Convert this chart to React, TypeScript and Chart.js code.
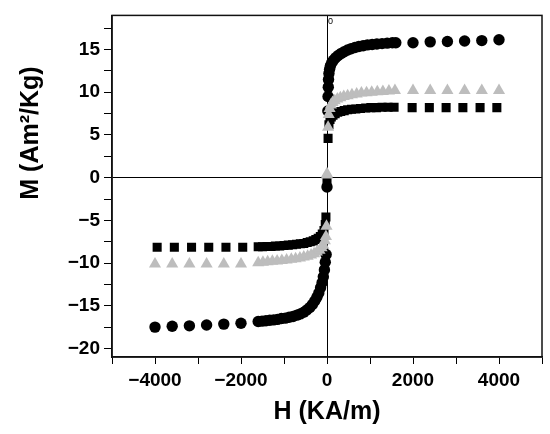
import { useEffect, useRef } from "react"
import { Chart, registerables } from "chart.js"

Chart.register(...registerables)

// Circles (black)
const circleNegSparseH = [-4000, -3600, -3200, -2800, -2400, -2000]
const circleNegSparseM = [-17.5, -17.4, -17.35, -17.25, -17.15, -17.05]
const circleNegDenseH = [-1600, -1510, -1420, -1330, -1240, -1150, -1060, -970, -880, -790, -700, -620, -540, -470, -400, -340, -285, -235, -190, -150, -115, -85, -60, -40, -20, 0]
const circleNegDenseM = [-16.85, -16.8, -16.75, -16.7, -16.65, -16.6, -16.5, -16.45, -16.35, -16.25, -16.1, -15.95, -15.75, -15.5, -15.2, -14.85, -14.45, -14.0, -13.5, -12.9, -12.3, -11.6, -10.8, -9.9, -9.0, -1.1]
const circlePosDenseH = [20, 25, 30, 35, 45, 60, 80, 110, 150, 200, 260, 330, 400, 480, 560, 650, 740, 840, 940, 1050, 1160, 1280, 1400, 1520, 1600]
const circlePosDenseM = [7.8, 9.5, 10.6, 11.5, 12.2, 12.7, 13.1, 13.45, 13.75, 14.05, 14.3, 14.55, 14.75, 14.95, 15.1, 15.25, 15.35, 15.45, 15.55, 15.6, 15.65, 15.7, 15.75, 15.8, 15.8]
const circlePosSparseH = [2000, 2400, 2800, 3200, 3600, 4000]
const circlePosSparseM = [15.8, 15.9, 15.95, 16.0, 16.05, 16.15]

// Squares (black)
const squareNegSparseH = [-3950, -3550, -3150, -2750, -2350, -1960]
const squareNegSparseM = [-8.15, -8.15, -8.15, -8.15, -8.15, -8.15]
const squareNegDenseH = [-1600, -1500, -1400, -1300, -1200, -1100, -1000, -900, -800, -710, -620, -540, -460, -390, -320, -260, -205, -155, -110, -70, -40, -25]
const squareNegDenseM = [-8.1, -8.1, -8.05, -8.05, -8.0, -8.0, -7.95, -7.9, -7.85, -7.8, -7.75, -7.7, -7.6, -7.5, -7.4, -7.25, -7.1, -6.9, -6.6, -6.2, -5.5, -4.6]
const squarePosDenseH = [0, 25, 45, 70, 100, 140, 190, 250, 320, 400, 480, 570, 670, 780, 900, 1020, 1150, 1280, 1420, 1560]
const squarePosDenseM = [-0.3, 4.6, 6.2, 6.8, 7.1, 7.3, 7.5, 7.65, 7.75, 7.85, 7.95, 8.0, 8.05, 8.1, 8.15, 8.2, 8.2, 8.25, 8.25, 8.25]
const squarePosSparseH = [1980, 2380, 2770, 3160, 3560, 3950]
const squarePosSparseM = [8.2, 8.2, 8.2, 8.2, 8.2, 8.2]

// Triangles (grey)
const triNegSparseH = [-4000, -3600, -3200, -2800, -2400, -2000]
const triNegSparseM = [-10.1, -10.1, -10.1, -10.1, -10.1, -10.1]
const triNegDenseH = [-1600, -1490, -1380, -1270, -1160, -1050, -940, -830, -730, -630, -540, -450, -370, -300, -235, -175, -125, -85, -50, -25, -12, 0]
const triNegDenseM = [-9.95, -9.9, -9.85, -9.8, -9.75, -9.7, -9.65, -9.55, -9.5, -9.4, -9.3, -9.2, -9.05, -8.9, -8.7, -8.5, -8.2, -7.9, -7.4, -6.9, -5.7, 0.3]
const triPosDenseH = [0, 25, 40, 60, 90, 130, 180, 240, 310, 390, 480, 580, 690, 800, 920, 1040, 1170, 1300, 1440, 1580]
const triPosDenseM = [0.45, 5.9, 7.4, 8.1, 8.5, 8.8, 9.0, 9.2, 9.35, 9.5, 9.6, 9.7, 9.8, 9.9, 9.95, 10.0, 10.05, 10.1, 10.15, 10.2]
const triPosSparseH = [2000, 2400, 2800, 3200, 3600, 4000]
const triPosSparseM = [10.2, 10.2, 10.2, 10.2, 10.2, 10.2]

// Axis ticks
const xTickValues = [-5000, -4000, -3000, -2000, -1000, 0, 1000, 2000, 3000, 4000, 5000]
const xTickLabels = ["", "\u22124000", "", "\u22122000", "", "0", "", "2000", "", "4000", ""]
const yTickValues = [-20, -17.5, -15, -12.5, -10, -7.5, -5, -2.5, 0, 2.5, 5, 7.5, 10, 12.5, 15, 17.5]
const yTickLabels = ["\u221220", "", "\u221215", "", "\u221210", "", "\u22125", "", "0", "", "5", "", "10", "", "15", ""]

const FONT = "'Liberation Sans', Arial, sans-serif"

function pairs(h: number[], m: number[]) {
  return h.map((x, i) => ({ x, y: m[i] }))
}

const framePlugin = {
  id: "frame",
  afterDraw(chart: any) {
    const { ctx, chartArea: a } = chart
    ctx.save()
    ctx.strokeStyle = "#111"
    ctx.lineWidth = 1.5
    ctx.strokeRect(a.left, a.top, a.right - a.left, a.bottom - a.top)

    // y axis title
    ctx.fillStyle = "#000"
    ctx.font = `bold 25px ${FONT}`
    ctx.textAlign = "center"
    ctx.textBaseline = "alphabetic"
    ctx.translate(38, 133)
    ctx.rotate(-Math.PI / 2)
    ctx.fillText("M (Am\u00b2/Kg)", 0, 0)
    ctx.restore()

    // small "0" at the top of the vertical zero line
    ctx.save()
    ctx.fillStyle = "#000"
    ctx.font = `9px ${FONT}`
    ctx.textAlign = "left"
    ctx.textBaseline = "middle"
    ctx.fillText("0", chart.scales.x.getPixelForValue(0) + 1, a.top + 6)
    ctx.restore()
  },
}

export default function App() {
  const chartRef = useRef<HTMLCanvasElement>(null)
  const chartInstance = useRef<Chart | null>(null)

  useEffect(() => {
    if (!chartRef.current) return
    if (chartInstance.current) chartInstance.current.destroy()

    const circles = [
      ...pairs(circleNegSparseH, circleNegSparseM),
      ...pairs(circleNegDenseH, circleNegDenseM),
      ...pairs(circlePosDenseH, circlePosDenseM),
      ...pairs(circlePosSparseH, circlePosSparseM),
    ]
    const squares = [
      ...pairs(squareNegSparseH, squareNegSparseM),
      ...pairs(squareNegDenseH, squareNegDenseM),
      ...pairs(squarePosDenseH, squarePosDenseM),
      ...pairs(squarePosSparseH, squarePosSparseM),
    ]
    const triangles = [
      ...pairs(triNegSparseH, triNegSparseM),
      ...pairs(triNegDenseH, triNegDenseM),
      ...pairs(triPosDenseH, triPosDenseM),
      ...pairs(triPosSparseH, triPosSparseM),
    ]

    const zeroGrid = (ctx: any) => (ctx.tick && ctx.tick.value === 0 ? "#000" : "rgba(0,0,0,0)")

    chartInstance.current = new Chart(chartRef.current, {
      type: "scatter",
      data: {
        datasets: [
          {
            label: "triangles",
            data: triangles,
            pointStyle: "triangle",
            pointRadius: 7,
            pointBorderWidth: 0,
            backgroundColor: "#bdbdbd",
            borderColor: "#bdbdbd",
          },
          {
            label: "squares",
            data: squares,
            pointStyle: "rect",
            pointRadius: 6.4,
            pointBorderWidth: 0,
            backgroundColor: "#000",
            borderColor: "#000",
          },
          {
            label: "circles",
            data: circles,
            pointStyle: "circle",
            pointRadius: 5.7,
            pointBorderWidth: 0,
            backgroundColor: "#000",
            borderColor: "#000",
          },
        ],
      },
      options: {
        animation: false,
        responsive: true,
        maintainAspectRatio: false,
        layout: { padding: { top: 6, right: 8, left: 0, bottom: 0 } },
        plugins: {
          legend: { display: false },
          tooltip: { enabled: false },
        },
        scales: {
          x: {
            type: "linear",
            min: -5000,
            max: 5000,
            afterBuildTicks: (scale: any) => {
              scale.ticks = xTickValues.map((value) => ({ value }))
            },
            afterFit: (scale: any) => {
              scale.height = 77
            },
            ticks: {
              autoSkip: false,
              maxRotation: 0,
              padding: 5,
              color: "#000",
              font: { family: FONT, size: 19, weight: "bold" },
              callback: (_v: any, i: number) => xTickLabels[i],
            },
            grid: {
              drawOnChartArea: true,
              color: zeroGrid,
              lineWidth: 1,
              tickColor: "#000",
              tickLength: 7,
            },
            border: { display: true, color: "#111", width: 1.5 },
            title: {
              display: true,
              text: "H (KA/m)",
              color: "#000",
              font: { family: FONT, size: 25, weight: "bold" },
              padding: { top: 0, bottom: 7 },
            },
          },
          y: {
            type: "linear",
            min: -21,
            max: 19,
            afterBuildTicks: (scale: any) => {
              scale.ticks = yTickValues.map((value) => ({ value }))
            },
            afterFit: (scale: any) => {
              scale.width = 112
            },
            ticks: {
              autoSkip: false,
              padding: 4,
              color: "#000",
              font: { family: FONT, size: 19, weight: "bold" },
              callback: (_v: any, i: number) => yTickLabels[i],
            },
            grid: {
              drawOnChartArea: true,
              color: zeroGrid,
              lineWidth: 1,
              tickColor: "#000",
              tickLength: 8,
            },
            border: { display: true, color: "#111", width: 1.5 },
          },
        },
      },
      plugins: [framePlugin],
    } as any)

    return () => {
      if (chartInstance.current) {
        chartInstance.current.destroy()
        chartInstance.current = null
      }
    }
  }, [])

  return (
    <div style={{ position: "fixed", left: 0, top: 0, width: 550, height: 434, background: "#fff" }}>
      <canvas ref={chartRef} />
    </div>
  )
}
